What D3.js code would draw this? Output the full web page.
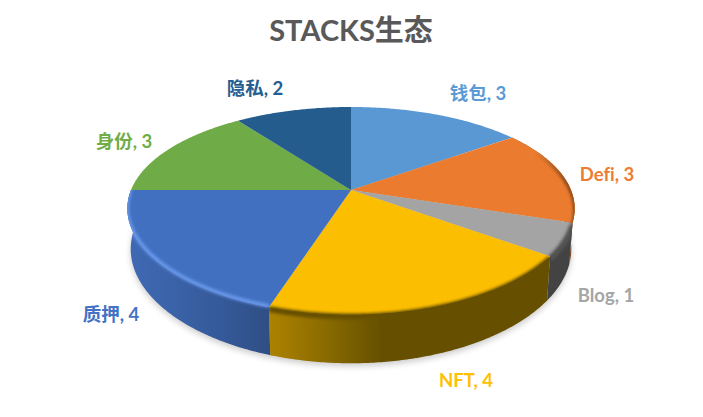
<!DOCTYPE html>
<html>
<head>
<meta charset="utf-8">
<script src="https://cdn.jsdelivr.net/npm/d3@7"></script>
<style>
  html, body { margin: 0; background: #fff; }
  svg { display: block; }
  text { font-family: Lato, "Noto Sans CJK SC", sans-serif; font-weight: 700; font-variant-ligatures: none; }
</style>
</head>
<body>
<svg id="chart" width="703" height="417"></svg>
<script>
const categories = ['钱包', 'Defi', 'Blog', 'NFT', '质押', '身份', '隐私'];
const values = [3, 3, 1, 4, 4, 3, 2];

const colors = ['#5a98d3', '#ea7b2f', '#a4a4a4', '#fcbe00', '#4270c0', '#6fab46', '#255c8e'];
const labelColors = ['#5b9bd5', '#ed7d31', '#a5a5a5', '#ffc000', '#4472c4', '#70ad47', '#255e91'];
// side wall shading, left to right across the wall
const sideStops = {
  Defi: ['#7a4119', '#7a4119'],
  Blog: ['#434343', '#434343'],
  NFT: ['#ad8200', '#8a6b00', '#665000', '#665000', '#665000', '#665000'],
  '质押': ['#4069b4', '#3a62a8', '#355999', '#2f4e84']
};
const bevelColors = { Defi: '#7a4119', Blog: '#555555', NFT: '#665000', '质押': '#6a9bf0' };
const labelPos = {
  '钱包': [478, 94], Defi: [607, 175], Blog: [606, 296], NFT: [466, 381],
  '质押': [111, 315], '身份': [124, 142], '隐私': [255, 89]
};

const svg = d3.select('#chart');
const defs = svg.append('defs');

// perspective projection of the pie disc: a = sin, b = cos
const cx = 351, cy = 190, rx = 220, ry = 99.6, perspX = 0.18, perspY = 0.2, depth = 39;
function project(angle, level) {
  const a = Math.sin(angle), b = Math.cos(angle);
  const s = level ? 0.985 : 1;
  return [cx + s * rx * a / (1 + perspX * b), cy + (level * depth - ry * b) / (1 + perspY * b)];
}
function rimPoints(d, level) {
  const n = Math.ceil((d.endAngle - d.startAngle) / 0.01);
  return d3.range(n + 1).map(i => project(d.startAngle + (d.endAngle - d.startAngle) * i / n, level));
}

const pie = d3.pie().sort(null);
const arcs = pie(values);
const line = d3.line();

defs.append('filter').attr('id', 'shadow')
    .attr('x', '-10%').attr('y', '-10%').attr('width', '120%').attr('height', '130%')
  .append('feGaussianBlur').attr('stdDeviation', 3);
defs.append('filter').attr('id', 'soft')
    .attr('filterUnits', 'userSpaceOnUse')
    .attr('x', 0).attr('y', 0).attr('width', 703).attr('height', 417)
  .append('feGaussianBlur').attr('stdDeviation', 1.5);

// the orange slice only darkens near its right end
const defiFade = defs.append('linearGradient').attr('id', 'defiFade')
    .attr('gradientUnits', 'userSpaceOnUse')
    .attr('x1', 535).attr('x2', 565).attr('y1', 0).attr('y2', 0);
defiFade.append('stop').attr('offset', 0).attr('stop-color', '#7a4119').attr('stop-opacity', 0);
defiFade.append('stop').attr('offset', 1).attr('stop-color', '#7a4119').attr('stop-opacity', 1);

// ground shadow
const fullCircle = { startAngle: 0, endAngle: 2 * Math.PI };
svg.append('path')
    .attr('d', line(rimPoints(fullCircle, 1)) + 'Z')
    .attr('transform', 'translate(0,3)')
    .attr('fill', '#000')
    .attr('opacity', 0.2)
    .attr('filter', 'url(#shadow)');

const slices = arcs.map((d, i) => ({
  name: categories[i],
  value: values[i],
  color: colors[i],
  labelColor: labelColors[i],
  arc: d,
  top: line([[cx, cy], ...rimPoints(d, 0)]) + 'Z',
  wall: line([...rimPoints(d, 0), ...rimPoints(d, 1).reverse()]) + 'Z',
  rim: line(rimPoints(d, 0))
}));

// side walls
slices.forEach((s, i) => {
  if (!sideStops[s.name]) return;
  const xs = [...rimPoints(s.arc, 0), ...rimPoints(s.arc, 1)].map(p => p[0]);
  const grad = defs.append('linearGradient').attr('id', `wall${i}`)
      .attr('gradientUnits', 'userSpaceOnUse')
      .attr('x1', d3.min(xs)).attr('x2', d3.max(xs)).attr('y1', 0).attr('y2', 0);
  sideStops[s.name].forEach((c, j, all) => {
    grad.append('stop').attr('offset', j / (all.length - 1)).attr('stop-color', c);
  });
  svg.append('path').attr('d', s.wall).attr('fill', `url(#wall${i})`);
});

// top faces
svg.selectAll('path.top')
  .data(slices)
  .join('path')
    .attr('class', 'top')
    .attr('d', d => d.top)
    .attr('fill', d => d.color);

// soft rim bevels, kept inside each slice
slices.forEach((s, i) => {
  if (!bevelColors[s.name]) return;
  const clip = defs.append('clipPath').attr('id', `clip${i}`);
  clip.append('path').attr('d', s.top);
  clip.append('path').attr('d', s.wall);
  const isBlue = s.name === '质押';
  svg.append('g').attr('clip-path', `url(#clip${i})`)
    .append('path')
      .attr('d', s.rim)
      .attr('transform', isBlue ? 'translate(0,-1)' : 'translate(0,2)')
      .attr('fill', 'none')
      .attr('stroke', s.name === 'Defi' ? 'url(#defiFade)' : bevelColors[s.name])
      .attr('stroke-width', isBlue ? 3.5 : s.name === 'Defi' ? 3 : 6)
      .attr('filter', 'url(#soft)');
});

svg.append('text')
    .attr('x', 351).attr('y', 41)
    .attr('text-anchor', 'middle')
    .attr('font-size', 29)
    .attr('fill', '#595959')
    .text('STACKS生态');

svg.selectAll('text.label')
  .data(slices)
  .join('text')
    .attr('class', 'label')
    .attr('x', d => labelPos[d.name][0])
    .attr('y', d => labelPos[d.name][1] + 6)
    .attr('text-anchor', 'middle')
    .attr('font-size', 18.5)
    .attr('fill', d => d.labelColor)
    .text(d => `${d.name}, ${d.value}`);
</script>
</body>
</html>
